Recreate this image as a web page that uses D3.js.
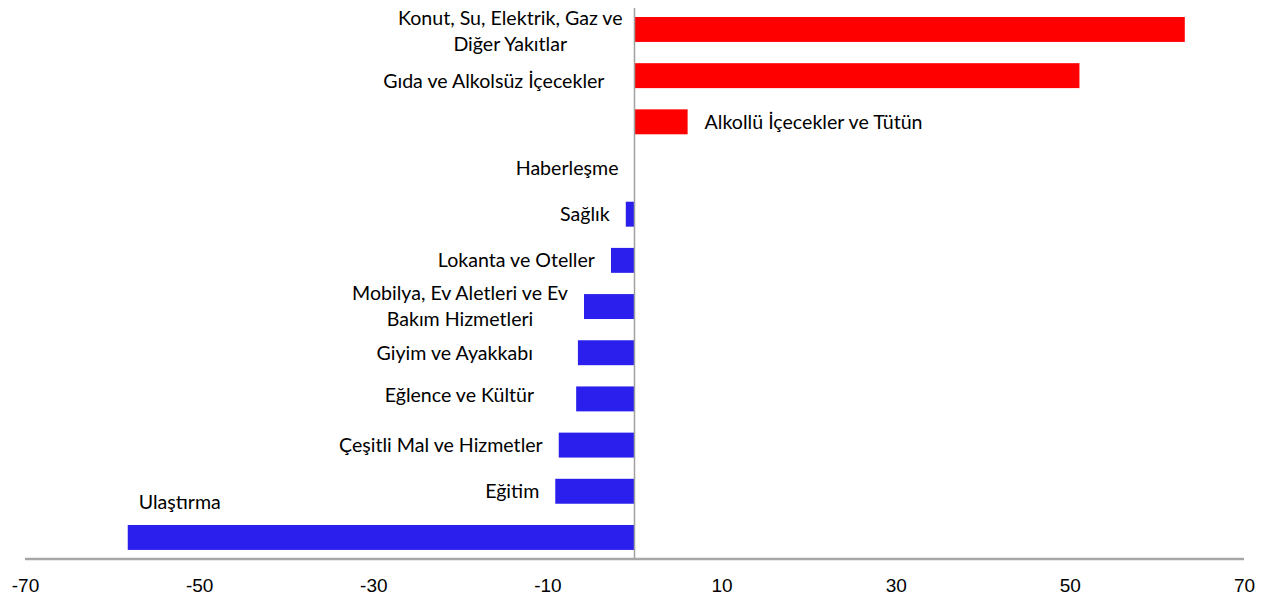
<!DOCTYPE html>
<html>
<head>
<meta charset="utf-8">
<script src="https://cdn.jsdelivr.net/npm/d3@7"></script>
<style>
	body { margin: 0; background: #fff; }
	svg { display: block; }
</style>
</head>
<body>
<div id="chart"></div>
<script>
// categories top to bottom, "\n" marks a line break in the label
var categories = [
	"Konut, Su, Elektrik, Gaz ve\nDiğer Yakıtlar",
	"Gıda ve Alkolsüz İçecekler",
	"Alkollü İçecekler ve Tütün",
	"Haberleşme",
	"Sağlık",
	"Lokanta ve Oteller",
	"Mobilya, Ev Aletleri ve Ev\nBakım Hizmetleri",
	"Giyim ve Ayakkabı",
	"Eğlence ve Kültür",
	"Çeşitli Mal ve Hizmetler",
	"Eğitim",
	"Ulaştırma"
];
var values = [63.2, 51.1, 6.1, 0, -1.0, -2.7, -5.8, -6.5, -6.7, -8.7, -9.1, -58.2];
var tickValues = [-70, -50, -30, -10, 10, 30, 50, 70];

var width = 1275, height = 598;
var posColor = "#ff0000", negColor = "#2a1fec";

//label placement tweaks (gap from bar, vertical nudge), by index
var labelGap = {1: 30, 7: 45, 8: 42, 0: 12};
var labelDy = {0: 1.5, 1: 5, 8: -4};

var svg = d3.select("#chart").append("svg")
	.attr("width", width)
	.attr("height", height);

var x = d3.scaleLinear().domain([-70, 70]).range([25, 1244]);

var step = 46.18;
var y = d3.scaleBand()
	.domain(d3.range(categories.length))
	.range([17 - 0.46 * step, 17 - 0.46 * step + 12.46 * step])
	.padding(0.46);

var axisY = 559;

// bars
svg.selectAll(".bar")
	.data(values)
	.enter().append("rect")
	.attr("class", "bar")
	.attr("x", function(d) { return x(Math.min(0, d)); })
	.attr("y", function(d, i) { return y(i); })
	.attr("width", function(d) { return Math.abs(x(d) - x(0)); })
	.attr("height", y.bandwidth())
	.style("fill", function(d) { return d >= 0 ? posColor : negColor; });

// zero line
svg.append("line")
	.attr("x1", x(0)).attr("x2", x(0))
	.attr("y1", 8).attr("y2", axisY)
	.style("stroke", "#a0a0a0")
	.style("stroke-width", 1.5);

// x axis
var xAxis = d3.axisBottom(x)
	.tickValues(tickValues)
	.tickSize(0)
	.tickPadding(0)
	.tickFormat(function(d) { return String(d); });

var gx = svg.append("g")
	.attr("transform", "translate(0," + axisY + ")")
	.call(xAxis);
gx.select(".domain")
	.attr("d", "M" + x(-70) + ",0H" + x(70))
	.style("stroke", "#a6a6a6")
	.style("stroke-width", 2.5);
gx.selectAll(".tick text")
	.attr("y", 33)
	.attr("dy", 0)
	.style("font-family", "'Liberation Sans', Arial, sans-serif")
	.style("font-size", "19px")
	.style("fill", "#000");

// category labels
var lineH = 26;
categories.forEach(function(name, i) {
	var v = values[i];
	var lines = name.split("\n");
	var cy = y(i) + y.bandwidth() / 2 + (labelDy[i] || 0);
	var g = svg.append("g").attr("class", "cat-label");
	var texts = lines.map(function(line, k) {
		return g.append("text")
			.text(line)
			.attr("y", cy + (k - (lines.length - 1) / 2) * lineH)
			.attr("dy", "0.35em")
			.style("font-family", "Lato, 'Open Sans', sans-serif")
			.style("font-size", "19.6px")
			.style("fill", "#000");
	});
	var maxW = d3.max(texts, function(t) { return t.node().getComputedTextLength(); });

	if (i === 2) {
		// to the right of its bar
		texts.forEach(function(t) { t.attr("x", x(v) + 17).attr("text-anchor", "start"); });
	} else if (i === categories.length - 1) {
		// above the long bar, near its left end
		texts.forEach(function(t) {
			t.attr("x", x(v) + 11).attr("text-anchor", "start")
				.attr("y", y(i) - 23);
		});
	} else {
		var right = x(Math.min(0, v)) - (labelGap[i] !== undefined ? labelGap[i] : 16);
		var center = right - maxW / 2;
		texts.forEach(function(t) { t.attr("x", center).attr("text-anchor", "middle"); });
	}
});
</script>
</body>
</html>
